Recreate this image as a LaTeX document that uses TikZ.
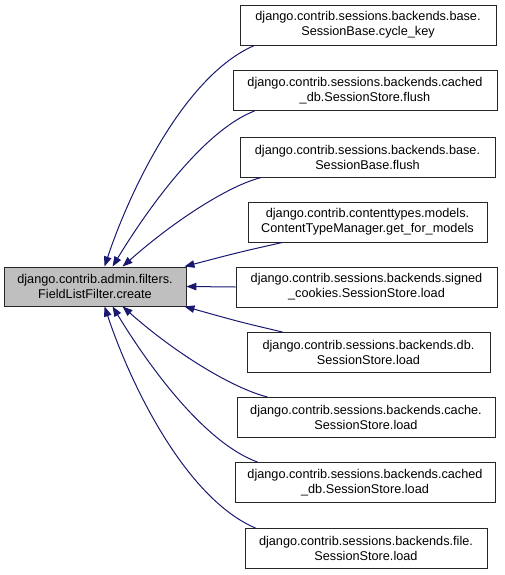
\documentclass[tikz,border=0pt]{standalone}
\usepackage{fontspec}
\setmainfont{Liberation Sans}
\usetikzlibrary{arrows.meta,calc}
\definecolor{edgecol}{RGB}{25,25,112}
\definecolor{srcfill}{RGB}{191,191,191}
\tikzset{
  fnbox/.style={draw=black!85, line width=0.9pt, fill=white, inner sep=0pt, align=center,
    minimum height=40pt, font=\fontsize{12.7}{15}\selectfont},
  srcbox/.style={fnbox, fill=srcfill},
  calledge/.style={draw=edgecol, line width=1pt, -{Triangle[length=10pt,width=7.5pt]}},
}
\begin{document}
\begin{tikzpicture}[x=1pt,y=-1pt]
\fill[white] (0,0) rectangle (505,575);
\useasboundingbox (0,0) rectangle (505,575);

\node[srcbox, minimum width=182pt, minimum height=39pt] (src) at (95,286.5)
  {django.contrib.admin.filters.\\FieldListFilter.create};

\node[fnbox, minimum width=256pt] (n1) at (368,25)
  {django.contrib.sessions.backends.base.\\SessionBase.cycle\_key};
\node[fnbox, minimum width=264pt] (n2) at (365,90.5)
  {django.contrib.sessions.backends.cached\\\_db.SessionStore.flush};
\node[fnbox, minimum width=255pt] (n3) at (367.5,157)
  {django.contrib.sessions.backends.base.\\SessionBase.flush};
\node[fnbox, minimum width=239pt] (n4) at (367.5,222)
  {django.contrib.contenttypes.models.\\ContentTypeManager.get\_for\_models};
\node[fnbox, minimum width=261pt] (n5) at (366.5,287)
  {django.contrib.sessions.backends.signed\\\_cookies.SessionStore.load};
\node[fnbox, minimum width=243pt] (n6) at (368.5,352.5)
  {django.contrib.sessions.backends.db.\\SessionStore.load};
\node[fnbox, minimum width=258pt] (n7) at (366,417.5)
  {django.contrib.sessions.backends.cache.\\SessionStore.load};
\node[fnbox, minimum width=260pt] (n8) at (365,482.5)
  {django.contrib.sessions.backends.cached\\\_db.SessionStore.load};
\node[fnbox, minimum width=242pt] (n9) at (366,548.5)
  {django.contrib.sessions.backends.file.\\SessionStore.load};

% upper curved edges
\draw[calledge] ($(n1.south west)+(15,0)$) .. controls (185,75) and (130,190) .. ($(src.north west)+(101,0)$);
\draw[calledge] ($(n2.south west)+(22,0)$) .. controls (205,130) and (150,205) .. ($(src.north west)+(109,0)$);
\draw[calledge] ($(n3.south west)+(22,0)$) .. controls (230,185) and (175,220) .. ($(src.north west)+(119,0)$);
% near-straight edges
\draw[calledge] ($(n4.south west)+(35,0)$) .. controls (240,252) .. ($(src.north east)+(-2,0)$);
\draw[calledge] (n5.west) -- (src.east);
\draw[calledge] ($(n6.north west)+(36,0)$) .. controls (240,322) .. ($(src.south east)+(-2,0)$);
% lower curved edges
\draw[calledge] ($(n7.north west)+(31,0)$) .. controls (232,388) and (175,353) .. ($(src.south west)+(119,0)$);
\draw[calledge] ($(n8.north west)+(23,0)$) .. controls (205,443) and (150,368) .. ($(src.south west)+(109,0)$);
\draw[calledge] ($(n9.north west)+(11,0)$) .. controls (185,498) and (130,383) .. ($(src.south west)+(101,0)$);
\end{tikzpicture}
\end{document}
